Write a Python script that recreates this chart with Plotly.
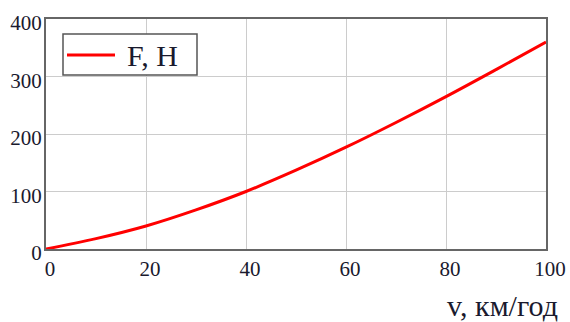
import plotly.graph_objects as go

v_kmh = [0, 10, 20, 30, 40, 50, 60, 70, 80, 90, 100]
F_N = [0, 18, 40, 68, 100, 137, 177, 220, 265, 312, 360]
x_ticks = [0, 20, 40, 60, 80, 100]
y_ticks = [0, 100, 200, 300, 400]
series_name = "F, H"

font_family = "Liberation Serif"
txt = "#1a1a2e"
red = "#ff0000"

fig = go.Figure()
fig.add_trace(go.Scatter(x=v_kmh, y=F_N, mode="lines", name=series_name,
                         line=dict(color=red, width=3, shape="spline"),
                         showlegend=False))

# legend drawn as a framed box with a line sample and label
fig.add_shape(type="rect", xref="paper", yref="paper", x0=0.034, x1=0.302,
              y0=0.757, y1=0.935, line=dict(color="#555555", width=1.5),
              fillcolor="white", layer="above")
fig.add_shape(type="line", xref="paper", yref="paper", x0=0.042, x1=0.138,
              y0=0.843, y1=0.843, line=dict(color=red, width=3), layer="above")
fig.add_annotation(text=series_name, xref="paper", yref="paper", x=0.158, y=0.843,
                   xanchor="left", yanchor="middle", showarrow=False,
                   font=dict(family=font_family, size=30, color=txt))

fig.update_layout(
    width=570, height=322,
    margin=dict(l=46, r=24, t=19, b=73, autoexpand=False),
    paper_bgcolor="white", plot_bgcolor="white",
    font=dict(family=font_family, color=txt),
    xaxis=dict(range=[0, 100], tickvals=x_ticks, showgrid=True, gridcolor="#cccccc",
               gridwidth=1.3, zeroline=False, showline=True, linecolor="#666666",
               linewidth=2, mirror=True, ticks="", ticklabelshift=4,
               ticklabeloverflow="allow",
               tickfont=dict(size=21, family=font_family, color=txt)),
    yaxis=dict(range=[0, 400], tickvals=y_ticks, showgrid=True, gridcolor="#cccccc",
               gridwidth=1.3, zeroline=False, showline=True, linecolor="#666666",
               linewidth=2, mirror=True, ticks="", ticklabelshift=4,
               ticklabelstandoff=-2, ticklabeloverflow="allow",
               tickfont=dict(size=21, family=font_family, color=txt)),
)
fig.add_annotation(text="v, км/год", xref="paper", yref="paper", x=1.028, y=-0.245,
                   xanchor="right", yanchor="middle", showarrow=False,
                   font=dict(family=font_family, size=30, color=txt))
fig.write_html("out.html", config={"displayModeBar": False},
               post_script="document.body.style.margin='0';document.body.style.overflow='hidden';")
